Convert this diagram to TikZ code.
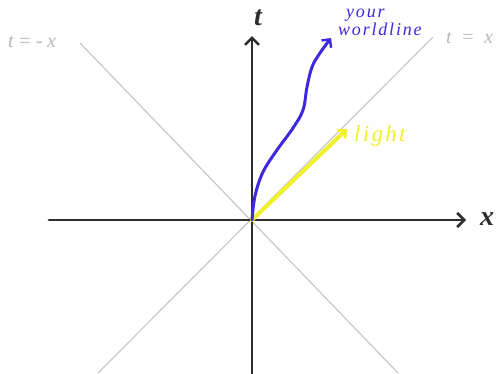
\documentclass[tikz,border=0pt]{standalone}
\usepackage{fontspec}
\newfontfamily\handfont[LetterSpace=10]{Liberation Serif}
\newfontfamily\widefont[LetterSpace=22]{Liberation Serif}
\usetikzlibrary{arrows.meta}
\definecolor{axisgray}{RGB}{45,45,45}
\definecolor{conegray}{RGB}{200,200,200}
\definecolor{labelgray}{RGB}{185,185,185}
\definecolor{wlblue}{RGB}{60,40,225}
\definecolor{lightyellow}{RGB}{242,240,40}
\begin{document}
\begin{tikzpicture}[x=1pt,y=-1pt,
  axisline/.style={draw=axisgray,line width=2.8pt,line cap=round,-{Straight Barb[length=7pt,width=14pt,line width=2.6pt]}},
  coneline/.style={draw=conegray,line width=1.2pt},
  conelabel/.style={text=labelgray,font=\widefont\itshape\fontsize{20}{20}\selectfont,inner sep=0pt},
  axislabel/.style={text=axisgray,font=\handfont\bfseries\itshape\fontsize{28}{28}\selectfont,inner sep=0pt},
  worldline/.style={draw=wlblue,line width=3pt,line cap=round,-{Straight Barb[length=6pt,width=12pt,line width=2.4pt]}},
  lightray/.style={draw=lightyellow,line width=4pt,line cap=round,-{Straight Barb[length=6pt,width=11pt,line width=2.6pt]}}]
\useasboundingbox[fill=white] (0,0) rectangle (500,373);
\coordinate (O) at (252,220);
\coordinate (xL) at (49,220);
\coordinate (xR) at (466,220);
\coordinate (tB) at (252,378);
\coordinate (tT) at (252,36);
\coordinate (pUR) at (433,37);
\coordinate (pLL) at (98,373);
\coordinate (mUL) at (80,43);
\coordinate (mLR) at (398,373);
\coordinate (lightEnd) at (347,129);
\coordinate (wlEnd) at (331,38);
% light cone lines
\draw[coneline] (pLL) -- (pUR);
\draw[coneline] (mUL) -- (mLR);
% axes
\draw[axisline] (xL) -- (xR);
\draw[axisline] (tB) -- (tT);
% labels
\node[axislabel] (tlab) at (258,18) {t};
\node[axislabel,anchor=west] (xlab) at (480,219) {x};
\node[conelabel,anchor=west] (mlab) at (8,42) {t=-x};
\node[conelabel,anchor=west] (plab) at (446,38) {t = x};
% light ray
\draw[lightray] (O) -- (lightEnd);
\node[text=lightyellow,font=\handfont\itshape\fontsize{23}{23}\selectfont,inner sep=0pt,anchor=west] (lightlab) at (354,136) {light};
% worldline
\draw[worldline] plot[smooth,tension=0.6] coordinates {(252,220) (255,196) (263,172) (277,150) (293,128) (303,110) (307,87) (312,67) (320,53) (331,38)};
\node[text=wlblue,font=\handfont\itshape\fontsize{18}{16}\selectfont,inner sep=0pt,align=left,anchor=north west] (wllab) at (338,9) {\hspace*{8pt}your\\worldline};
\end{tikzpicture}
\end{document}
